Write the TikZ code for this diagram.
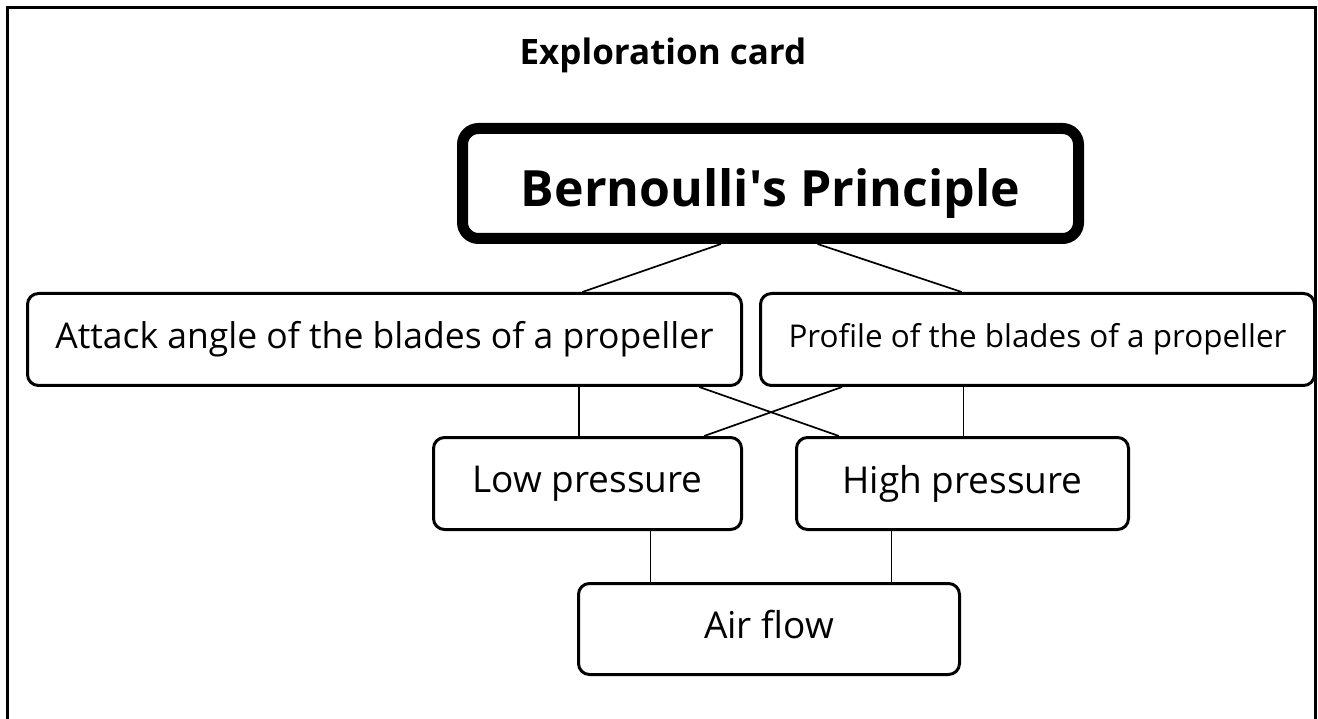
\documentclass[tikz,border=0pt]{standalone}
\usepackage{fontspec}
\setmainfont{Open Sans}
\usetikzlibrary{calc}

\begin{document}
\begin{tikzpicture}[
  x=1pt, y=-1pt,
  card/.style={draw, line width=3pt, rounded corners=11pt,
               inner sep=0pt, minimum height=92pt, align=center},
  link/.style={line width=1.7pt}
]
\useasboundingbox (0,0) rectangle (1318,719);
% frame of the card, open at the bottom
\draw[line width=3pt] (7,719) -- (7,8) -- (1315,8) -- (1315,719);

\node[anchor=base, font=\fontsize{35}{40}\selectfont\bfseries] (title)
  at (663,65) {Exploration card};
\node[card, line width=11pt, rounded corners=16pt, minimum width=616pt,
  minimum height=110pt, text height=47pt, text depth=0pt,
  font=\fontsize{50}{58}\selectfont\bfseries] (bern)
  at (770.5,183.5) {Bernoulli\textquotesingle s Principle};
\node[card, minimum width=714pt, font=\fontsize{35.5}{40}\selectfont] (att)
  at (384.5,339.5) {Attack angle of the blades of a propeller};
\node[card, minimum width=554pt, font=\fontsize{31.4}{36}\selectfont] (pro)
  at (1037.5,339.5) {Profile of the blades of a propeller};
\node[card, minimum width=308pt, font=\fontsize{37}{42}\selectfont] (low)
  at (587.5,483.5) {Low pressure};
\node[card, minimum width=332pt, font=\fontsize{37}{42}\selectfont] (high)
  at (962.5,483.5) {High pressure};
\node[card, minimum width=381pt, minimum height=91pt, text depth=9pt,
  font=\fontsize{37}{42}\selectfont] (air)
  at (769,629) {Air flow};

\draw[link] ($(bern.south west)!0.421!(bern.south east)$)
  -- ($(att.north west)!0.776!(att.north east)$);
\draw[link] ($(bern.south west)!0.575!(bern.south east)$)
  -- ($(pro.north west)!0.364!(pro.north east)$);
\draw[link] ($(att.south west)!0.771!(att.south east)$) coordinate (v1)
  -- (v1 |- low.north);
\draw[link] ($(pro.south west)!0.367!(pro.south east)$) coordinate (v2)
  -- (v2 |- high.north);
\draw[link] ($(att.south west)!0.939!(att.south east)$)
  -- ($(high.north west)!0.131!(high.north east)$);
\draw[link] ($(pro.south west)!0.149!(pro.south east)$)
  -- ($(low.north west)!0.875!(low.north east)$);
\draw[link] ($(low.south west)!0.703!(low.south east)$) coordinate (v3)
  -- (v3 |- air.north);
\draw[link] ($(high.south west)!0.288!(high.south east)$) coordinate (v4)
  -- (v4 |- air.north);
\end{tikzpicture}
\end{document}
